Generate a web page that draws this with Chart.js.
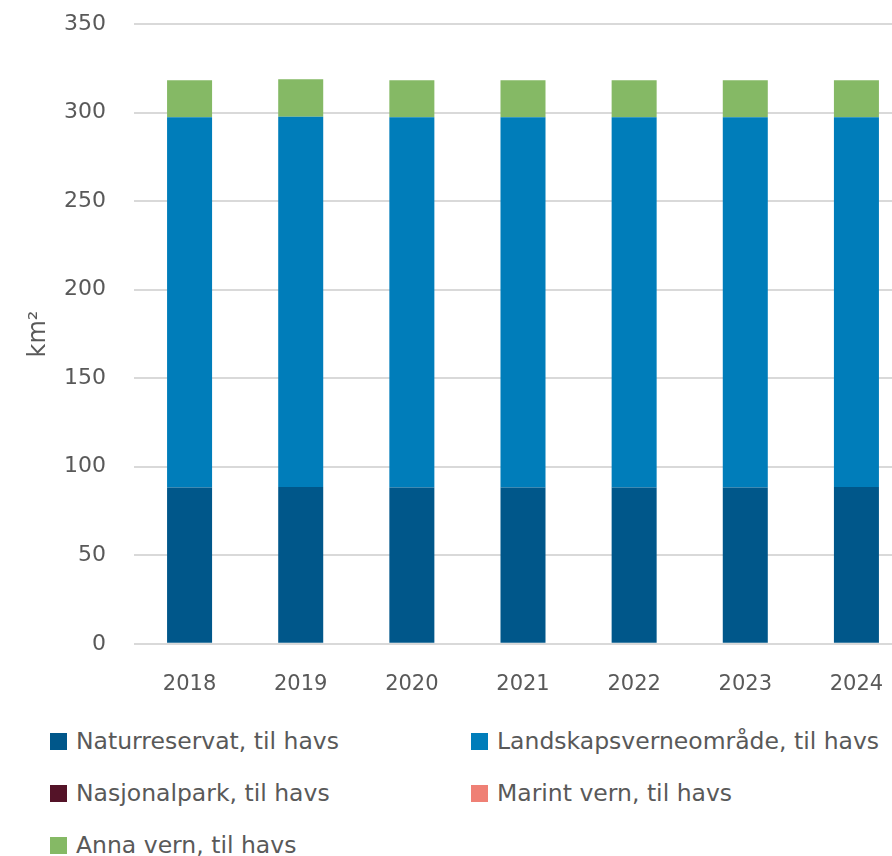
<!DOCTYPE html>
<html>
<head>
<meta charset="utf-8">
<script src="https://cdn.jsdelivr.net/npm/chart.js@4"></script>
<style>
  html, body { margin: 0; padding: 0; background: #fff; overflow: hidden; }
  #wrap { position: relative; width: 912px; height: 856px; }
  #chartBox { position: absolute; left: 0; top: -17px; width: 912px; height: 734px; }
  .legend { position: absolute; font-family: "DejaVu Sans", sans-serif; font-size: 23.5px; color: #595959; display: flex; align-items: center; white-space: nowrap; }
  .legend span.box { display: inline-block; width: 17px; height: 17px; margin-right: 9px; }
</style>
</head>
<body>
<div id="wrap">
  <div id="chartBox"><canvas id="chart"></canvas></div>
  <div id="legend"></div>
</div>
<script>
const years = ["2018", "2019", "2020", "2021", "2022", "2023", "2024"];
const naturreservat = [88.3, 88.6, 88.3, 88.3, 88.3, 88.3, 88.6];
const landskap = [209.1, 209.1, 209.1, 209.1, 209.1, 209.1, 208.8];
const nasjonalpark = [0, 0, 0, 0, 0, 0, 0];
const marint = [0, 0, 0, 0, 0, 0, 0];
const annaVern = [21, 21.2, 21, 21, 21, 21, 21];

const seriesNames = [
  "Naturreservat, til havs",
  "Landskapsverneområde, til havs",
  "Nasjonalpark, til havs",
  "Marint vern, til havs",
  "Anna vern, til havs"
];
const seriesColors = ["#00578A", "#007DBA", "#541328", "#EF8075", "#85B965"];
const seriesData = [naturreservat, landskap, nasjonalpark, marint, annaVern];

const textColor = "#595959";
const fontFamily = "'DejaVu Sans', sans-serif";

// legend in two columns, drawn as html
const legendPos = [[50, 741], [471, 741], [50, 793], [471, 793], [50, 845]];
const legendEl = document.getElementById("legend");
seriesNames.forEach((name, i) => {
  const item = document.createElement("div");
  item.className = "legend";
  item.style.left = legendPos[i][0] + "px";
  item.style.top = (legendPos[i][1] - 14) + "px";
  item.innerHTML = '<span class="box" style="background:' + seriesColors[i] + '"></span>' + name;
  legendEl.appendChild(item);
});

const ctx = document.getElementById("chart").getContext("2d");
new Chart(ctx, {
  type: "bar",
  data: {
    labels: years,
    datasets: seriesData.map((d, i) => ({
      label: seriesNames[i],
      data: d,
      backgroundColor: seriesColors[i],
      barPercentage: 0.405,
      categoryPercentage: 1
    }))
  },
  options: {
    responsive: true,
    maintainAspectRatio: false,
    animation: false,
    layout: { padding: { top: 12, right: 0, left: 0, bottom: 0 } },
    plugins: {
      legend: { display: false },
      tooltip: { enabled: false }
    },
    scales: {
      x: {
        stacked: true,
        grid: { display: false },
        border: { display: false },
        ticks: { color: textColor, font: { family: fontFamily, size: 21 }, padding: 20 }
      },
      y: {
        stacked: true,
        min: 0,
        max: 350,
        afterFit: (scale) => { scale.width = 134; },
        ticks: { stepSize: 50, color: textColor, font: { family: fontFamily, size: 22 }, padding: 28 },
        grid: { color: "#d9d9d9", lineWidth: 2, drawTicks: false },
        border: { display: false },
        title: {
          display: true,
          text: "km²",
          color: textColor,
          font: { family: fontFamily, size: 24 },
          padding: { top: 24, bottom: 0 }
        }
      }
    }
  }
});
</script>
</body>
</html>
